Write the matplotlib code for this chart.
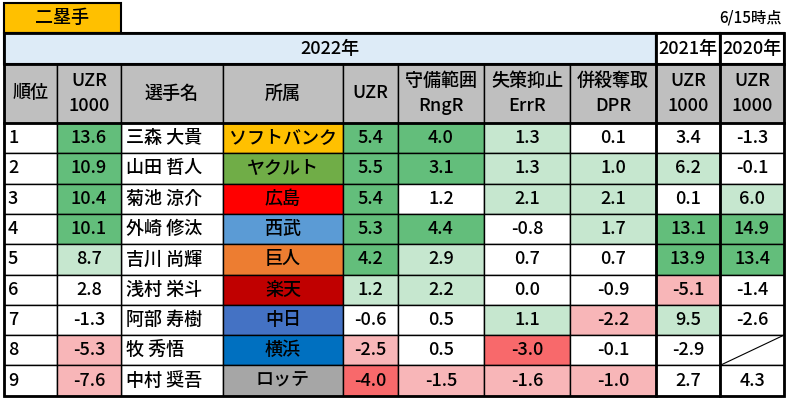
import matplotlib
matplotlib.use("Agg")
import matplotlib.pyplot as plt
from matplotlib.patches import Rectangle

plt.rcParams["font.family"] = ["Noto Sans CJK JP", "DejaVu Sans"]
plt.rcParams["font.weight"] = "medium"

ranks = [1, 2, 3, 4, 5, 6, 7, 8, 9]
uzr1000 = [13.6, 10.9, 10.4, 10.1, 8.7, 2.8, -1.3, -5.3, -7.6]
names = ["三森 大貴", "山田 哲人", "菊池 涼介", "外崎 修汰", "吉川 尚輝", "浅村 栄斗", "阿部 寿樹", "牧 秀悟", "中村 奨吾"]
teams = ["ソフトバンク", "ヤクルト", "広島", "西武", "巨人", "楽天", "中日", "横浜", "ロッテ"]
uzr = [5.4, 5.5, 5.4, 5.3, 4.2, 1.2, -0.6, -2.5, -4.0]
rngr = [4.0, 3.1, 1.2, 4.4, 2.9, 2.2, 0.5, 0.5, -1.5]
errr = [1.3, 1.3, 2.1, -0.8, 0.7, 0.0, 1.1, -3.0, -1.6]
dpr = [0.1, 1.0, 2.1, 1.7, 0.7, -0.9, -2.2, -0.1, -1.0]
uzr1000_2021 = [3.4, 6.2, 0.1, 13.1, 13.9, -5.1, 9.5, -2.9, 2.7]
uzr1000_2020 = [-1.3, -0.1, 6.0, 14.9, 13.4, -1.4, -2.6, None, 4.3]

# shading codes per numeric column: G strong green, g light green, p pink, R red
shade_uzr1000 = ["G", "G", "G", "G", "g", "", "", "p", "p"]
shade_uzr = ["G", "G", "G", "G", "G", "g", "", "p", "R"]
shade_rngr = ["G", "G", "", "G", "g", "g", "", "", "p"]
shade_errr = ["g", "g", "g", "", "", "", "g", "R", "p"]
shade_dpr = ["", "g", "g", "g", "", "", "p", "", "p"]
shade_2021 = ["", "g", "", "G", "G", "p", "g", "", ""]
shade_2020 = ["", "", "g", "G", "G", "", "", "", ""]

team_colors = {"ソフトバンク": "#FFC000", "ヤクルト": "#70AD47", "広島": "#FF0000",
               "西武": "#5B9BD5", "巨人": "#ED7D31", "楽天": "#C00000",
               "中日": "#4472C4", "横浜": "#0070C0", "ロッテ": "#A6A6A6"}
shade_colors = {"G": "#63BE7B", "g": "#C6E7CF", "p": "#F8B6B8", "R": "#F8696B", "": "white"}

fig = plt.figure(figsize=(7.87, 4.0), dpi=100)
ax = fig.add_axes([0, 0, 1, 1])
ax.set_xlim(0, 787)
ax.set_ylim(400, 0)
ax.axis("off")

xs = [4, 57, 121, 223, 343, 398, 484, 570, 656, 720, 784]
h1_top, h2_top, d_top, rh = 33, 64, 123, 30.3
FS = 13

def cell(x0, x1, y0, y1, color, lw=1.0):
    ax.add_patch(Rectangle((x0, y0), x1 - x0, y1 - y0, facecolor=color, edgecolor="black", lw=lw))

# title box
cell(4, 121, 3, 33, "#FFC000", lw=1.5)
ax.text(62, 18, "二塁手", ha="center", va="center", fontsize=FS)
ax.text(782, 18, "6/15時点", ha="right", va="center", fontsize=11)

# header row 1
cell(xs[0], xs[8], h1_top, h2_top, "#DDEBF7", lw=1.5)
ax.text((xs[0] + xs[8]) / 2, (h1_top + h2_top) / 2, "2022年", ha="center", va="center", fontsize=FS)
cell(xs[8], xs[9], h1_top, h2_top, "white", lw=1.5)
ax.text((xs[8] + xs[9]) / 2, (h1_top + h2_top) / 2, "2021年", ha="center", va="center", fontsize=FS)
cell(xs[9], xs[10], h1_top, h2_top, "white", lw=1.5)
ax.text((xs[9] + xs[10]) / 2, (h1_top + h2_top) / 2, "2020年", ha="center", va="center", fontsize=FS)

headers = ["順位", "UZR\n1000", "選手名", "所属", "UZR", "守備範囲\nRngR", "失策抑止\nErrR", "併殺奪取\nDPR", "UZR\n1000", "UZR\n1000"]
for i, hd in enumerate(headers):
    cell(xs[i], xs[i + 1], h2_top, d_top, "#BFBFBF")
    ax.text((xs[i] + xs[i + 1]) / 2, (h2_top + d_top) / 2, hd, ha="center", va="center",
            fontsize=FS, linespacing=1.5)

num_cols = [(uzr1000, shade_uzr1000, 1), (uzr, shade_uzr, 4), (rngr, shade_rngr, 5),
            (errr, shade_errr, 6), (dpr, shade_dpr, 7), (uzr1000_2021, shade_2021, 8),
            (uzr1000_2020, shade_2020, 9)]

for r in range(len(ranks)):
    y0 = d_top + r * rh
    y1 = y0 + rh
    yc = (y0 + y1) / 2
    cell(xs[0], xs[1], y0, y1, "white")
    ax.text(xs[0] + 4, yc, str(ranks[r]), ha="left", va="center", fontsize=FS)
    cell(xs[2], xs[3], y0, y1, "white")
    ax.text(xs[2] + 5, yc, names[r], ha="left", va="center", fontsize=FS)
    cell(xs[3], xs[4], y0, y1, team_colors[teams[r]])
    ax.text((xs[3] + xs[4]) / 2, yc, teams[r], ha="center", va="center", fontsize=FS)
    for vals, shades, c in num_cols:
        cell(xs[c], xs[c + 1], y0, y1, shade_colors[shades[r]])
        v = vals[r]
        if v is None:
            ax.plot([xs[c], xs[c + 1]], [y1, y0], color="black", lw=0.8)
        else:
            ax.text((xs[c] + xs[c + 1]) / 2, yc, f"{v:.1f}", ha="center", va="center", fontsize=FS)

# thick outer borders
bottom = d_top + len(ranks) * rh
ax.add_patch(Rectangle((xs[0], h1_top), xs[-1] - xs[0], bottom - h1_top, fill=False, edgecolor="black", lw=2))
for x in (xs[8], xs[9]):
    ax.plot([x, x], [h1_top, bottom], color="black", lw=2)
ax.plot([xs[0], xs[-1]], [h2_top, h2_top], color="black", lw=2)
ax.plot([xs[0], xs[-1]], [d_top, d_top], color="black", lw=2)

fig.savefig("out.png", dpi=100)
